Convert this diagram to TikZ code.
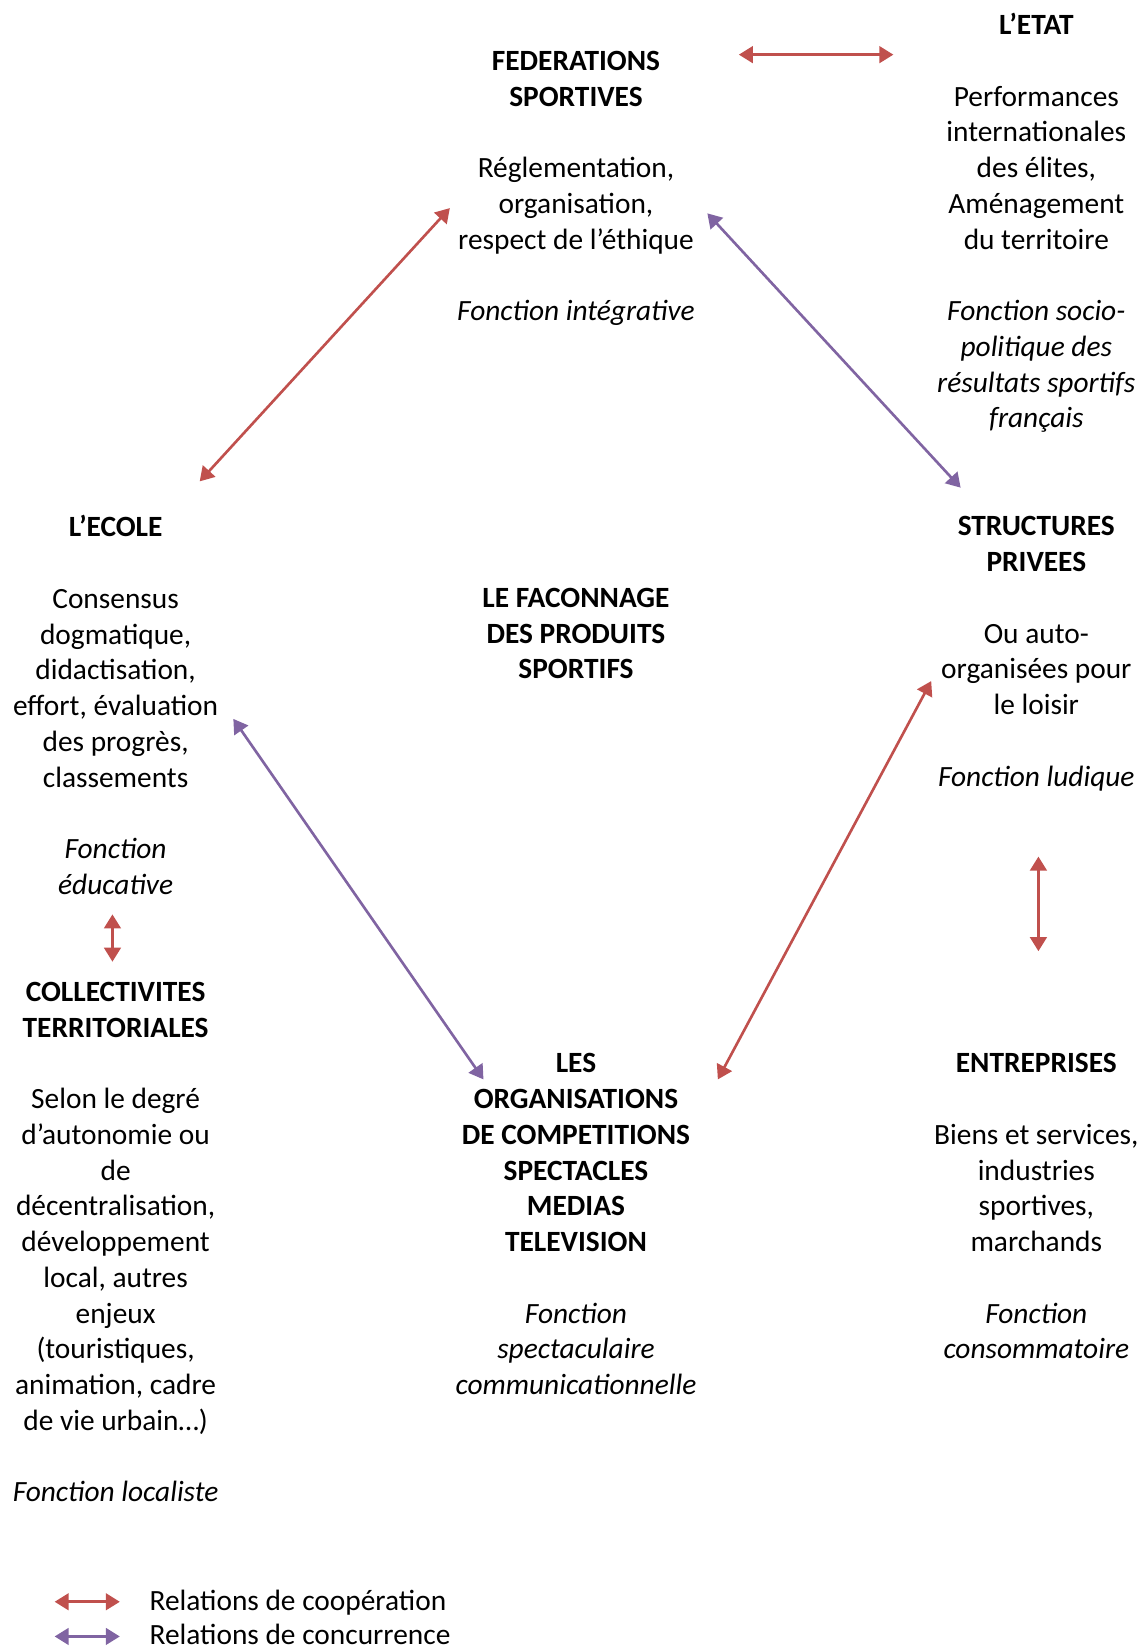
\documentclass[tikz,border=0pt]{standalone}
\usepackage{fontspec}
\setmainfont{Carlito}
\usetikzlibrary{arrows.meta}
\definecolor{coopred}{HTML}{C0504D}
\definecolor{concpurple}{HTML}{8064A2}

\begin{document}
\begin{tikzpicture}[x=0.021028cm, y=-0.021028cm,
    bloc/.style={align=center, anchor=base, inner sep=0pt, font=\fontsize{16.72}{20.35}\selectfont},
    legende/.style={anchor=base west, inner sep=0pt, font=\fontsize{16.72}{20.35}\selectfont},
    fleche/.style={{Triangle[length=8pt,width=9.5pt]}-{Triangle[length=8pt,width=9.5pt]}, line width=1.5pt},
    coop/.style={fleche, coopred},
    conc/.style={fleche, concpurple}]
    \useasboundingbox (0,0) rectangle (1090,1568);

    % blocs de texte (ancre = ligne de base de la derniere ligne)
    \node[bloc] (fede) at (548,305) {\textbf{FEDERATIONS}\\ \textbf{SPORTIVES}\\[20.35pt]
        Réglementation,\\ organisation,\\ respect de l’éthique\\[20.35pt] \textit{Fonction intégrative}};
    \node[bloc] (etat) at (986,407) {\textbf{L’ETAT}\\[20.35pt] Performances\\ internationales\\ des élites,\\
        Aménagement\\ du territoire\\[20.35pt] \textit{Fonction socio-}\\ \textit{politique des}\\
        \textit{résultats sportifs}\\ \textit{français}};
    \node[bloc] (ecole) at (110,851) {\textbf{L’ECOLE}\\[20.35pt] Consensus\\ dogmatique,\\ didactisation,\\
        effort, évaluation\\ des progrès,\\ classements\\[20.35pt] \textit{Fonction}\\ \textit{éducative}};
    \node[bloc] (faco) at (548,646) {\textbf{LE FACONNAGE}\\ \textbf{DES PRODUITS}\\ \textbf{SPORTIFS}};
    \node[bloc] (struc) at (986,748) {\textbf{STRUCTURES}\\ \textbf{PRIVEES}\\[20.35pt] Ou auto-\\
        organisées pour\\ le loisir\\[20.35pt] \textit{Fonction ludique}};
    \node[bloc] (coll) at (110,1429) {\textbf{COLLECTIVITES}\\ \textbf{TERRITORIALES}\\[20.35pt] Selon le degré\\
        d’autonomie ou\\ de\\ décentralisation,\\ développement\\ local, autres\\ enjeux\\ (touristiques,\\
        animation, cadre\\ de vie urbain…)\\[20.35pt] \textit{Fonction localiste}};
    \node[bloc] (orga) at (548,1327) {\textbf{LES}\\ \textbf{ORGANISATIONS}\\ \textbf{DE COMPETITIONS}\\
        \textbf{SPECTACLES}\\ \textbf{MEDIAS}\\ \textbf{TELEVISION}\\[20.35pt] \textit{Fonction}\\
        \textit{spectaculaire}\\ \textit{communicationnelle}};
    \node[bloc] (entr) at (986,1293) {\textbf{ENTREPRISES}\\[20.35pt] Biens et services,\\ industries\\
        sportives,\\ marchands\\[20.35pt] \textit{Fonction}\\ \textit{consommatoire}};

    % extremites des fleches
    \coordinate (fedeE) at (703,52);
    \coordinate (etatW) at (850,52);
    \coordinate (fedeSW) at (428,198);
    \coordinate (ecoleN) at (190,458);
    \coordinate (fedeSE) at (673,203);
    \coordinate (strucN) at (914,464);
    \coordinate (ecoleE) at (222,684);
    \coordinate (orgaNW) at (460,1027);
    \coordinate (strucSW) at (886,648);
    \coordinate (orgaNE) at (683,1027);
    \coordinate (ecoleS) at (107,870);
    \coordinate (collN) at (107,915);
    \coordinate (strucS) at (988,815);
    \coordinate (entrN) at (988,905);

    \draw[coop] (fedeE) -- (etatW);
    \draw[coop] (fedeSW) -- (ecoleN);
    \draw[conc] (fedeSE) -- (strucN);
    \draw[conc] (ecoleE) -- (orgaNW);
    \draw[coop] (strucSW) -- (orgaNE);
    \draw[coop] (ecoleS) -- (collN);
    \draw[coop] (strucS) -- (entrN);

    % legende
    \node[legende] (leg1) at (142,1532) {Relations de coopération};
    \node[legende] (leg2) at (142,1565) {Relations de concurrence};
    \coordinate (leg1a) at (52,1524);
    \coordinate (leg1b) at (114,1524);
    \coordinate (leg2a) at (52,1557);
    \coordinate (leg2b) at (114,1557);
    \draw[coop] (leg1a) -- (leg1b);
    \draw[conc] (leg2a) -- (leg2b);
\end{tikzpicture}
\end{document}
